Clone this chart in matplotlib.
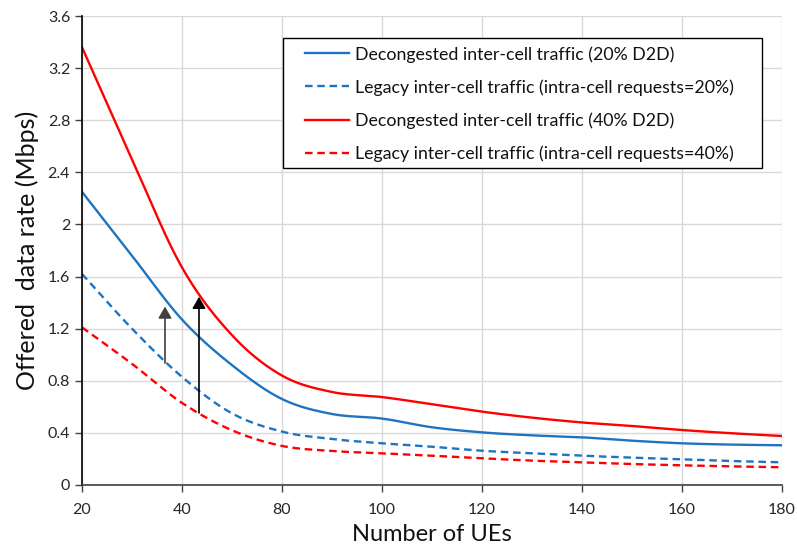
import numpy as np
import matplotlib
matplotlib.use("Agg")
import matplotlib.pyplot as plt
from matplotlib.patches import Rectangle

# ---- data ----
ue_categories = [20, 30, 40, 60, 80, 90, 100, 110, 120, 130, 140, 150, 160, 170, 180]
tick_labels = ["20", "40", "80", "100", "120", "140", "160", "180"]

decong_20 = [2.25, 1.76, 1.27, 0.92, 0.66, 0.545, 0.51, 0.443, 0.404, 0.381, 0.366, 0.34, 0.32, 0.31, 0.305]
legacy_20 = [1.62, 1.20, 0.83, 0.55, 0.41, 0.353, 0.32, 0.294, 0.263, 0.243, 0.225, 0.21, 0.197, 0.184, 0.174]
decong_40 = [3.36, 2.50, 1.67, 1.15, 0.84, 0.714, 0.675, 0.62, 0.563, 0.517, 0.48, 0.453, 0.422, 0.397, 0.376]
legacy_40 = [1.21, 0.93, 0.63, 0.42, 0.30, 0.261, 0.243, 0.225, 0.205, 0.187, 0.174, 0.161, 0.151, 0.143, 0.136]

labels = [
    "Decongested inter-cell traffic (20% D2D)",
    "Legacy inter-cell traffic (intra-cell requests=20%)",
    "Decongested inter-cell traffic (40% D2D)",
    "Legacy inter-cell traffic (intra-cell requests=40%)",
]

# arrows: (category position, start value, end value, colour)
arrows = [(1.66, 0.936, 1.37, "#404040"), (2.34, 0.553, 1.445, "#000000")]

BLUE = "#1f74c2"
RED = "#ff0000"


def smooth(xs, ys, n=30):
    """Catmull-Rom rendering of a smoothed line (like a spreadsheet 'smoothed line')."""
    xs = np.asarray(xs, float)
    ys = np.asarray(ys, float)
    P = np.column_stack([xs, ys])
    P = np.vstack([P[0] - (P[1] - P[0]), P, P[-1] + (P[-1] - P[-2])])
    out = []
    for i in range(1, len(P) - 2):
        p0, p1, p2, p3 = P[i - 1], P[i], P[i + 1], P[i + 2]
        t = np.linspace(0, 1, n, endpoint=False)[:, None]
        m1 = (p2 - p0) / 2
        m2 = (p3 - p1) / 2
        h00 = 2 * t**3 - 3 * t**2 + 1
        h10 = t**3 - 2 * t**2 + t
        h01 = -2 * t**3 + 3 * t**2
        h11 = t**3 - t**2
        out.append(h00 * p1 + h10 * m1 + h01 * p2 + h11 * m2)
    out.append(P[-2][None, :])
    out = np.vstack(out)
    return out[:, 0], out[:, 1]


plt.rcParams["font.family"] = ["Lato", "DejaVu Sans"]

W, H = 797, 552
fig = plt.figure(figsize=(W / 100, H / 100), dpi=100)
ax = fig.add_axes([82 / W, 1 - 485 / H, 700 / W, 469 / H])

pos = np.arange(len(ue_categories))

series = [
    (decong_20, BLUE, "-"),
    (legacy_20, BLUE, "--"),
    (decong_40, RED, "-"),
    (legacy_40, RED, "--"),
]
for (vals, col, ls), lab in zip(series, labels):
    sx, sy = smooth(pos, vals)
    if ls == "--":
        ax.plot(sx, sy, color=col, lw=1.7, linestyle=(0, (3.2, 2.0)), label=lab)
    else:
        ax.plot(sx, sy, color=col, lw=1.7, label=lab)

for x, y0, y1, c in arrows:
    ax.annotate("", xy=(x, y1), xytext=(x, y0),
                arrowprops=dict(arrowstyle="-|>,head_length=0.7,head_width=0.4",
                                color=c, lw=1.2, shrinkA=0, shrinkB=0))

ax.set_xlim(0, len(ue_categories) - 1)
ax.set_ylim(0, 3.6)
ax.set_xticks(pos[::2])
ax.set_xticklabels(tick_labels)
ax.set_yticks(np.arange(0, 3.61, 0.4))
ax.set_yticklabels(["0", "0.4", "0.8", "1.2", "1.6", "2", "2.4", "2.8", "3.2", "3.6"])

ax.grid(True, color="#d9d9d9", lw=1.0)
ax.set_axisbelow(True)
for s in ["top", "right"]:
    ax.spines[s].set_visible(False)
ax.spines["left"].set_color("#000000")
ax.spines["bottom"].set_color("#404040")
ax.spines["left"].set_linewidth(1.2)
ax.spines["bottom"].set_linewidth(1.2)
ax.tick_params(axis="both", direction="out", length=5, width=1.0, color="#404040",
               labelsize=11.5, labelcolor="#262626")
ax.tick_params(axis="x", pad=8)

ax.set_xlabel("Number of UEs", fontsize=17, color="#111111", labelpad=5)
ax.set_ylabel("Offered  data rate (Mbps)", fontsize=18, color="#111111", labelpad=6)

# legend (text rows placed like the reference) with a separate rectangular frame
leg = ax.legend(loc="upper left", bbox_to_anchor=(305 / W, 1 - 46 / H),
                bbox_transform=fig.transFigure, fontsize=12.8,
                frameon=False, handlelength=2.45, handletextpad=0.35,
                borderpad=0, labelspacing=0.93, borderaxespad=0)
for t in leg.get_texts():
    t.set_color("#111111")
fig.add_artist(Rectangle((283 / W, 1 - 168 / H), (762 - 283) / W, (168 - 38) / H,
                         transform=fig.transFigure, fill=True, facecolor="white",
                         edgecolor="black", lw=1.0, zorder=4))
leg.set_zorder(5)
leg.remove()
fig.add_artist(leg)

fig.savefig("out.png", dpi=100)
